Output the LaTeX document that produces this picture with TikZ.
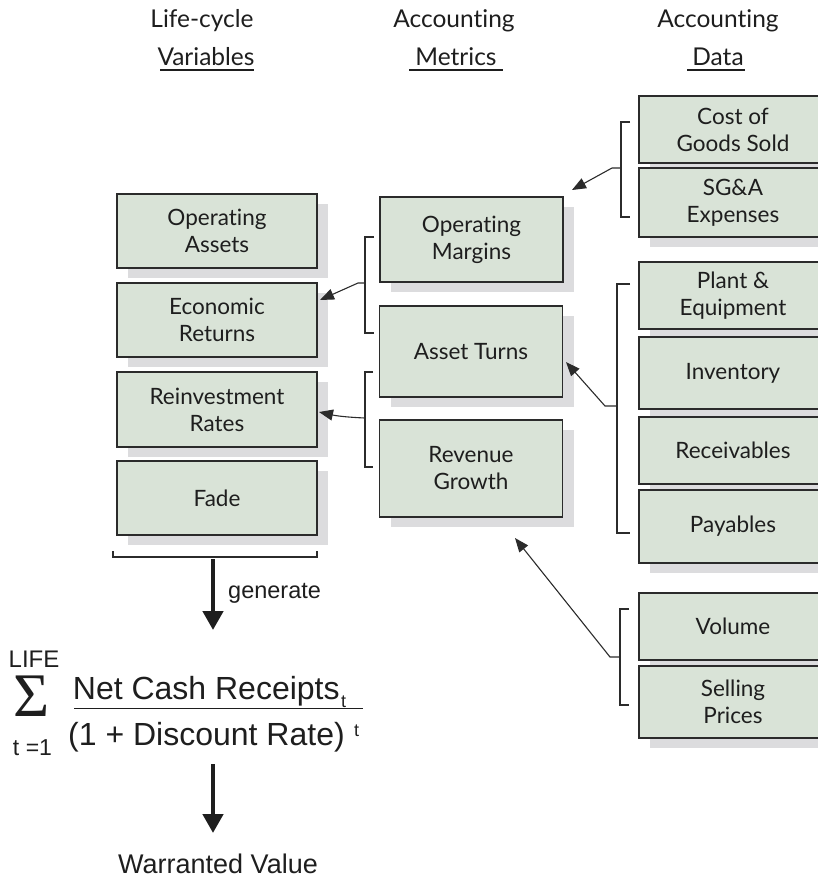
\documentclass[tikz,border=0pt]{standalone}
\usepackage{fontspec}
\setmainfont[Ligatures=NoCommon]{Lato}
\newfontfamily\helv{Liberation Sans}
\newfontfamily\sigmaface{Liberation Serif}
\usetikzlibrary{arrows.meta,shadows,calc}
\definecolor{boxfill}{HTML}{D9E3D7}
\definecolor{shadowgray}{HTML}{DCDCDE}
\definecolor{edge}{HTML}{2B2B2B}
\definecolor{ink}{HTML}{1E1E1E}

\begin{document}
\begin{tikzpicture}[x=1pt,y=-1pt,
  databox/.style={draw=edge, line width=1.4pt, fill=boxfill, inner sep=0pt,
    align=center, text=ink, font=\fontsize{22.5}{27}\selectfont,
    drop shadow={shadow xshift=11pt, shadow yshift=-10pt, fill=shadowgray, opacity=1}},
  leftbox/.style={databox, minimum width=200pt},
  midbox/.style={databox, minimum width=183pt},
  rightbox/.style={databox, minimum width=188pt},
  bracket/.style={draw=edge, line width=1.1pt},
  link/.style={draw=edge, line width=1.1pt, -{Triangle[length=14pt,width=11pt]}},
  flow/.style={draw=ink, line width=4.5pt, -{Triangle[length=19pt,width=20pt]}},
  header/.style={text=ink, font=\fontsize{24.5}{27}\selectfont, inner sep=0pt, anchor=base},
  rule/.style={draw=ink, line width=1.8pt},
  formula/.style={text=ink, inner sep=0pt},
]
\useasboundingbox (0,0) rectangle (818,879);
\clip (0,0) rectangle (818,879);

% column headings
\node[header] (h1a) at (202,27) {Life-cycle};
\node[header] (h1b) at (206,65) {Variables};
\draw[rule] (160,70) -- (254,70);
\node[header] (h2a) at (454,27) {Accounting};
\node[header] (h2b) at (456,65) {Metrics};
\draw[rule] (409,70) -- (503,70);
\node[header] (h3a) at (718,27) {Accounting};
\node[header] (h3b) at (718,65) {Data};
\draw[rule] (687,70) -- (745,70);

% life-cycle variables
\node[leftbox, minimum height=74pt] (opassets) at (217,231) {Operating\\Assets};
\node[leftbox, minimum height=74pt] (econ) at (217,320) {Economic\\Returns};
\node[leftbox, minimum height=75pt] (reinv) at (217,409.5) {Reinvestment\\Rates};
\node[leftbox, minimum height=74pt] (fade) at (217,498) {Fade};

% accounting metrics
\node[midbox, minimum height=85pt] (opmarg) at (471.5,239.5) {Operating\\Margins};
\node[midbox, minimum height=91pt] (turns) at (471,351.5) {Asset Turns};
\node[midbox, minimum height=97pt] (growth) at (471,468.5) {Revenue\\Growth};

% accounting data
\node[rightbox, minimum height=67pt] (cogs) at (733,129.5) {Cost of\\Goods Sold};
\node[rightbox, minimum height=69pt] (sga) at (733,202.5) {SG\&A\\Expenses};
\node[rightbox, minimum height=67pt] (plant) at (733,295.5) {Plant \&\\Equipment};
\node[rightbox, minimum height=72pt] (inv) at (733,373) {Inventory};
\node[rightbox, minimum height=67pt] (recv) at (733,450.5) {Receivables};
\node[rightbox, minimum height=73pt] (pay) at (733,526.5) {Payables};
\node[rightbox, minimum height=67pt] (vol) at (733,626.5) {Volume};
\node[rightbox, minimum height=72pt] (price) at (733,702) {Selling\\Prices};

% brackets grouping the data items
\draw[bracket] (630,122) -- (621,122) -- (621,217) -- (630,217);
\draw[bracket] (630,284) -- (617,284) -- (617,533) -- (630,533);
\draw[bracket] (629,609) -- (620,609) -- (620,705) -- (629,705);
\draw[bracket] (374,237) -- (365,237) -- (365,333) -- (374,333);
\draw[bracket] (373,372) -- (365,372) -- (365,467) -- (373,467);
\draw[bracket] (113,551) -- (113,557) -- (317,557) -- (317,551);

% bracket junctions and arrow targets
\coordinate (j1) at (621,168);   \coordinate (t1) at (572,190);
\coordinate (j2) at (617,406);   \coordinate (t2) at (566,362);
\coordinate (j3) at (620,657);   \coordinate (t3) at (515,538);
\coordinate (j4) at (365,283);   \coordinate (t4) at (320,300);
\coordinate (j5) at (365,418);   \coordinate (t5) at (319,412);
\coordinate (jb) at (213,559);   \coordinate (tb) at (213,630);

\draw[link] (j1) -- ++(-9,0) -- (t1);
\draw[link] (j2) -- ++(-12,0) -- (t2);
\draw[link] (j3) -- ++(-10,0) -- (t3);
\draw[link] (j4) -- ++(-7,0) -- (t4);
\draw[link] (j5) to[bend left=5] (t5);

% valuation
\draw[flow] (jb) -- (tb);
\node[formula, anchor=base west, font=\helv\fontsize{23.5}{24}\selectfont] (gen) at (228,598) {generate};

\node[formula, anchor=base, font=\helv\fontsize{24}{24}\selectfont] (life) at (34,667) {LIFE};
\node[formula, anchor=base west, text height=41pt, text depth=0pt,
      font=\sigmaface\fontsize{62}{62}\selectfont] (sigma) at (13,716) {Σ};
\node[formula, anchor=base, font=\helv\fontsize{23}{23}\selectfont] (lower) at (32.5,755) {t =1};
\node[formula, anchor=base west, font=\helv\fontsize{32}{32}\selectfont] (num) at (72.7,699.3) {Net Cash Receipts};
\node[formula, anchor=base west, font=\helv\fontsize{18}{18}\selectfont] (numsub) at (341,707) {t};
\draw[draw=ink, line width=1.2pt] (74,708.3) coordinate (barl) -- (363,708.3) coordinate (barr);
\node[formula, anchor=base west, font=\helv\fontsize{32}{32}\selectfont] (den) at (68,745) {(1 + Discount Rate)};
\node[formula, anchor=base west, font=\helv\fontsize{18}{18}\selectfont] (densup) at (354,736) {t};

\coordinate (fb) at (213,764); \coordinate (ft) at (213,833);
\draw[flow] (fb) -- (ft);
\node[formula, anchor=base, font=\helv\fontsize{27}{27}\selectfont] (value) at (218,873) {Warranted Value};
\end{tikzpicture}
\end{document}
